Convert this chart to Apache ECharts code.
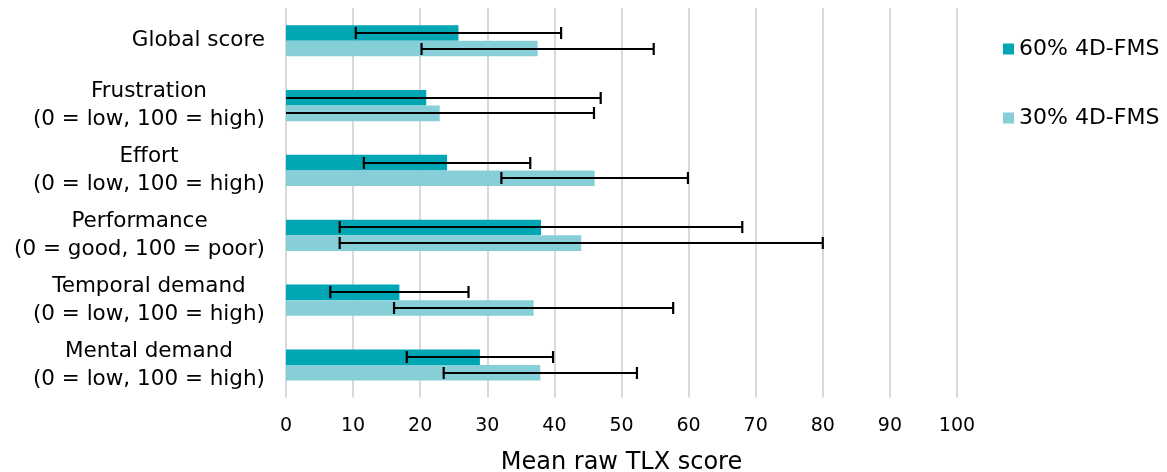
<!DOCTYPE html>
<html><head><meta charset="utf-8">
<script src="https://cdn.jsdelivr.net/npm/echarts@6/dist/echarts.min.js"></script>
<style>html,body{margin:0;padding:0;background:#fff}#c{width:1167px;height:472px}</style>
</head><body><div id="c"></div>
<script>
// categories, top to bottom
const categories = [
  'Global score',
  'Frustration\n(0 = low, 100 = high)',
  'Effort\n(0 = low, 100 = high)',
  'Performance\n(0 = good, 100 = poor)',
  'Temporal demand\n(0 = low, 100 = high)',
  'Mental demand\n(0 = low, 100 = high)'
];
const seriesNames = ['60% 4D-FMS', '30% 4D-FMS'];
const mean60 = [25.7, 20.9, 24.0, 38.0, 16.9, 28.9];
const sd60   = [15.3, 26.0, 12.4, 30.0, 10.3, 10.9];
const mean30 = [37.5, 22.9, 46.0, 44.0, 36.9, 37.9];
const sd30   = [17.3, 23.0, 13.9, 36.0, 20.8, 14.4];
const xTicks = [0, 10, 20, 30, 40, 50, 60, 70, 80, 90, 100];

const colors = ['#00A6B4', '#86CFD8'];
const BAR_W = 15.6;
const FONT = 'DejaVu Sans, Verdana, sans-serif';

function errSeries(means, sds, offsetSign) {
  return {
    type: 'custom',
    z: 10,
    silent: true,
    data: means.map((m, i) => [m, i, sds[i]]),
    renderItem: function (params, api) {
      const m = api.value(0), ci = api.value(1), sd = api.value(2);
      const c = api.coord([m, ci]);
      const y = Math.round(c[1] + offsetSign * BAR_W / 2);
      const loVal = Math.max(0, m - sd);
      const lo = api.coord([loVal, ci])[0];
      const hi = api.coord([m + sd, ci])[0];
      const style = { stroke: '#000', lineWidth: 2.2 };
      const cap = 6;
      const children = [
        { type: 'line', shape: { x1: lo, y1: y, x2: hi, y2: y }, style: style },
        { type: 'line', shape: { x1: hi, y1: y - cap, x2: hi, y2: y + cap }, style: style }
      ];
      if (m - sd >= 0) {
        children.push({ type: 'line', shape: { x1: lo, y1: y - cap, x2: lo, y2: y + cap }, style: style });
      }
      return { type: 'group', children: children };
    }
  };
}

const chart = echarts.init(document.getElementById('c'), null, { renderer: 'canvas' });
chart.setOption({
  animation: false,
  textStyle: { fontFamily: FONT },
  grid: { left: 286, right: 210, top: 8.3, bottom: 74.6, containLabel: false, outerBoundsMode: 'none' },
  legend: {
    orient: 'vertical',
    left: 998,
    top: 33,
    itemWidth: 11,
    itemHeight: 11,
    itemGap: 47,
    icon: 'rect',
    data: seriesNames,
    textStyle: { fontFamily: FONT, fontSize: 22, color: '#000' }
  },
  xAxis: {
    type: 'value',
    min: 0, max: 100, interval: 10,
    axisLine: { show: false },
    axisTick: { show: false },
    axisLabel: { fontFamily: FONT, fontSize: 19, color: '#000', margin: 19,
      formatter: v => xTicks.includes(v) ? String(v) : '' },
    splitLine: { show: true, lineStyle: { color: '#D9D9D9', width: 2 } },
    name: 'Mean raw TLX score',
    nameLocation: 'middle',
    nameGap: 53,
    nameTextStyle: { fontFamily: FONT, fontSize: 24, color: '#000' }
  },
  yAxis: {
    type: 'category',
    inverse: true,
    data: categories,
    axisLine: { show: false },
    axisTick: { show: false },
    splitLine: { show: false },
    axisLabel: {
      margin: 21,
      color: '#000',
      fontFamily: FONT,
      fontSize: 21.5,
      lineHeight: 28,
      align: 'right',
      formatter: v => v.split('\n').map(s => '{c|' + s + '}').join('\n'),
      rich: { c: { align: 'center', fontFamily: FONT, fontSize: 21.5, lineHeight: 28, color: '#000' } }
    }
  },
  series: [
    { name: seriesNames[0], type: 'bar', data: mean60, barWidth: BAR_W, barGap: '0%',
      itemStyle: { color: colors[0] } },
    { name: seriesNames[1], type: 'bar', data: mean30, barWidth: BAR_W, barGap: '0%',
      itemStyle: { color: colors[1] } },
    errSeries(mean60, sd60, -1),
    errSeries(mean30, sd30, 1)
  ]
});
</script>
</body></html>
